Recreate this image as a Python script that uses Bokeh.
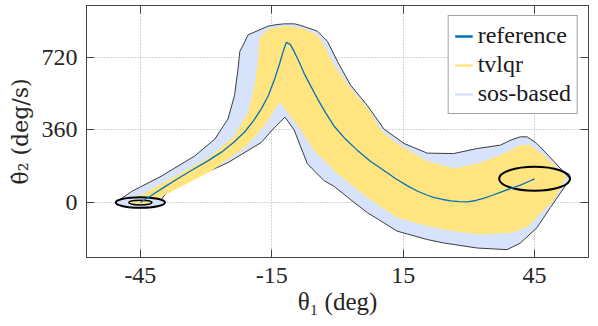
from bokeh.plotting import figure
from bokeh.models import Range1d, LinearAxis, FixedTicker, Legend, LegendItem
from bokeh.embed import file_html
from bokeh.resources import INLINE

# ---- data (theta1 in deg, theta2-dot in deg/s) ----
x_ticks = [-45, -15, 15, 45]
x_tick_labels = ["-45", "-15", "15", "45"]
y_ticks = [0, 360, 720]
y_tick_labels = ["0", "360", "720"]

ref_theta = [-45, -43.5, -42, -40, -36.5, -32.5, -29.5, -26.5, -23.8, -21.2, -19.2, -17.4, -15.8, -14.3,
             -13.2, -12.4, -11.7, -10.8, -9.9, -8.8, -7.6, -6.1, -4.6, -2.7, -0.8, 1.8, 4.5, 7.5, 10.6,
             13.3, 15.9, 18.2, 20.5, 22.1, 24, 25.9, 27.8, 29.7, 31.6, 33.5, 35.4, 37.3, 39.6, 41.9,
             43.5, 45]
ref_rate = [0, 20, 42, 70, 118, 170, 208, 250, 297, 350, 405, 465, 530, 616,
            690, 750, 795, 785, 750, 700, 640, 578, 516, 445, 380, 315, 260, 205, 159,
            118, 84, 57, 36, 24, 15, 8, 4, 3, 10, 22, 36, 52, 70, 88,
            103, 117]

sos_theta = [-50.4, -47.0, -40.2, -32.6, -28.0, -25.0, -23.5, -22.7, -22.3, -21.3, -20.4, -18.1, -15.8,
             -13.6, -12.1, -9.8, -8.4, -4.6, -2.3, 0.0, 3.0, 6.8, 10.6, 15.2, 20.5, 26.5, 31.9, 37.2,
             39.6, 41.7, 43.3, 45.5, 49.2, 53.1, 48.6, 45.5, 41.7, 38.7, 31.9, 24.3, 20.5, 13.6, 6.8,
             3.8, -0.7, -3.1, -6.9, -9.9, -12.0, -14.9, -17.4, -25.0, -32.6, -38.6, -40.2, -39.7, -45.0]
sos_rate = [3, 55, 131, 231, 315, 415, 532, 666, 750, 792, 833, 854, 876,
            884, 887, 887, 879, 851, 800, 700, 582, 482, 365, 293, 245, 243, 268, 285,
            310, 326, 326, 293, 209, 117, -25, -126, -202, -234, -226, -201, -184, -142, -50,
            0, 79, 109, 193, 360, 424, 360, 298, 198, 123, 64, 14, 0, -5]

tvlqr_theta = [-47.0, -44.0, -36.3, -28.8, -23.5, -20.4, -18.9, -18.1, -17.8, -15.8, -12.1, -8.3, -4.6,
               -3.1, -0.8, 3.0, 7.6, 9.8, 13.6, 20.5, 26.5, 31.9, 37.2, 41.7, 44.0, 47.1, 52.4, 51.7,
               49.3, 46.4, 43.4, 39.4, 31.9, 24.3, 20.5, 13.6, 6.8, 0.0, -5.4, -8.4, -13.2, -16.6,
               -21.2, -28.8, -36.3, -42.4, -45.0]
tvlqr_rate = [14, 47, 139, 231, 331, 449, 582, 716, 817, 859, 876, 867, 833,
              783, 683, 566, 449, 360, 293, 205, 170, 193, 234, 285, 285, 234, 124, 105,
              9, -53, -122, -151, -159, -134, -117, -75, 25, 143, 260, 360, 499, 382,
              273, 156, 72, 5, -5]

# ellipses: [center_theta, center_rate, width (deg), height (deg/s)]
start_sos_ellipse = [-45, 0, 11.2, 53]
start_tvlqr_ellipse = [-45, 0, 5.3, 23.6]
goal_ellipse = [45, 118, 16.2, 120]

legend_labels = ["reference", "tvlqr", "sos-based"]

# ---- styles ----
REF = "#0072BD"
YEL = "#FFE480"
SOS = "#D6E3FB"
FONT = "Liberation Serif"
DARK = "#444444"

p = figure(width=598, height=326, x_range=Range1d(-57.3, 57.3), y_range=Range1d(-273, 978),
           output_backend="svg", toolbar_location=None,
           min_border_left=86, min_border_right=10, min_border_top=5, min_border_bottom=69,
           background_fill_color="white", border_fill_color="white")

p.outline_line_color = DARK
p.outline_line_width = 1

for ax in (p.xaxis[0], p.yaxis[0]):
    ax.major_tick_in = 8
    ax.major_tick_out = 0
    ax.minor_tick_in = 0
    ax.minor_tick_out = 0
    ax.minor_tick_line_color = None
    ax.major_tick_line_color = DARK
    ax.axis_line_color = DARK
    ax.major_label_text_font = FONT
    ax.major_label_text_font_size = "24px"
    ax.major_label_text_color = "#262626"
    ax.axis_label_text_font = FONT
    ax.axis_label_text_font_size = "25px"
    ax.axis_label_text_font_style = "normal"
    ax.axis_label_text_color = "#262626"

p.xaxis.ticker = FixedTicker(ticks=x_ticks)
p.xaxis.major_label_overrides = {t: l for t, l in zip(x_ticks, x_tick_labels)}
p.yaxis.ticker = FixedTicker(ticks=y_ticks)
p.yaxis.major_label_overrides = {t: l for t, l in zip(y_ticks, y_tick_labels)}
p.xaxis.axis_label = "θ₁ (deg)"
p.yaxis.axis_label = "θ̇₂ (deg/s)"
# DejaVu places the combining dot correctly over theta
p.yaxis.axis_label_text_font = "DejaVu Serif"
p.yaxis.axis_label_text_font_size = "22px"
p.xaxis.major_label_standoff = 10
p.xaxis.axis_label_standoff = 2
p.yaxis.major_label_standoff = 9
p.yaxis.axis_label_standoff = 6

# ticks on top and right (no labels)
for loc, ticks in (("above", x_ticks), ("right", y_ticks)):
    ax = LinearAxis(ticker=FixedTicker(ticks=ticks))
    ax.major_tick_in = 8
    ax.major_tick_out = 0
    ax.minor_tick_in = 0
    ax.minor_tick_out = 0
    ax.minor_tick_line_color = None
    ax.major_tick_line_color = DARK
    ax.axis_line_color = DARK
    ax.major_label_text_font_size = "0px"
    ax.major_label_standoff = 0
    ax.major_label_text_alpha = 0
    ax.axis_label_standoff = 0
    p.add_layout(ax, loc)

p.xgrid.ticker = FixedTicker(ticks=x_ticks)
p.ygrid.ticker = FixedTicker(ticks=y_ticks)
for g in (p.xgrid[0], p.ygrid[0]):
    g.grid_line_color = "#a8a8a8"
    g.grid_line_dash = "1 2"
    g.grid_line_width = 1

# ---- marks ----
p.patch(sos_theta, sos_rate, fill_color=SOS, line_color="#3c3c3c", line_width=1)
p.patch(tvlqr_theta, tvlqr_rate, fill_color=YEL, line_color=None)
p.ellipse(x=[start_sos_ellipse[0]], y=[start_sos_ellipse[1]], width=[start_sos_ellipse[2]],
          height=[start_sos_ellipse[3]], fill_color=SOS, line_color="black", line_width=2)
p.ellipse(x=[start_tvlqr_ellipse[0]], y=[start_tvlqr_ellipse[1]], width=[start_tvlqr_ellipse[2]],
          height=[start_tvlqr_ellipse[3]], fill_color=YEL, line_color="black", line_width=1.5)
p.ellipse(x=[goal_ellipse[0]], y=[goal_ellipse[1]], width=[goal_ellipse[2]],
          height=[goal_ellipse[3]], fill_color=None, line_color="black", line_width=2)
p.line(ref_theta, ref_rate, line_color=REF, line_width=1.3)

# legend swatches (line samples; single-point lines draw nothing in the plot)
r1 = p.line(x=ref_theta[:1], y=ref_rate[:1], line_color=REF, line_width=2.5)
r2 = p.line(x=tvlqr_theta[:1], y=tvlqr_rate[:1], line_color=YEL, line_width=2.5)
r3 = p.line(x=sos_theta[:1], y=sos_rate[:1], line_color=SOS, line_width=2.5)
legend = Legend(items=[LegendItem(label=legend_labels[0], renderers=[r1]),
                       LegendItem(label=legend_labels[1], renderers=[r2]),
                       LegendItem(label=legend_labels[2], renderers=[r3])],
                location="top_right")
legend.label_text_font = FONT
legend.label_text_font_size = "24px"
legend.label_text_color = "#1a1a1a"
legend.border_line_color = DARK
legend.border_line_width = 1
legend.background_fill_color = "white"
legend.background_fill_alpha = 1
legend.glyph_width = 18
legend.glyph_height = 26
legend.label_height = 26
legend.label_standoff = 5
legend.spacing = 2
legend.padding = 6
legend.margin = 10
p.add_layout(legend)

open("out.html", "w").write(file_html(p, INLINE))
